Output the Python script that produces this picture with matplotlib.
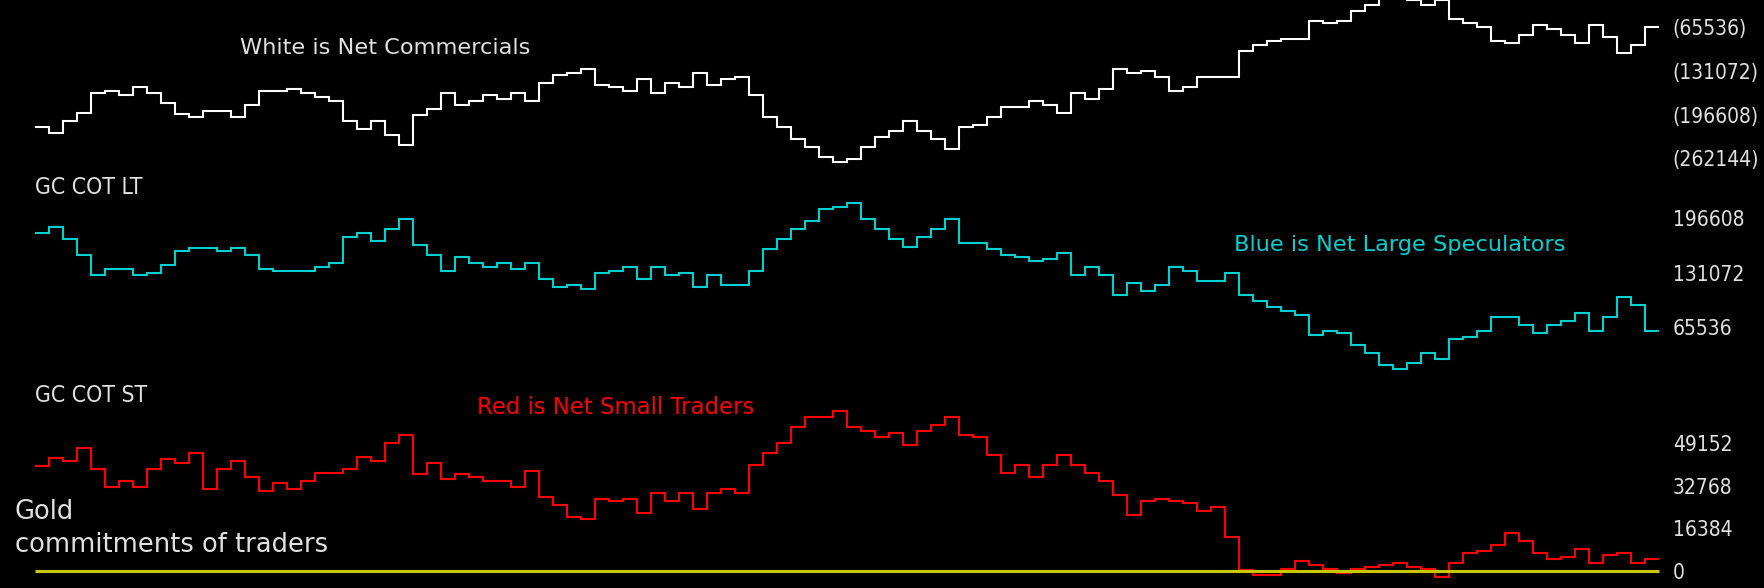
import numpy as np
import matplotlib
matplotlib.use("Agg")
import matplotlib.pyplot as plt

# ---- data (thousands of contracts) ----
white_k = [-215.6, -224.6, -206.6, -194.6, -164.6, -161.1, -167.6, -155.6, -164.6, -179.6,
           -195.1, -200.6, -191.6, -191.6, -200.6, -182.6, -160.6, -160.6, -158.1, -164.6,
           -170.6, -176.6, -206.6, -218.6, -206.6, -227.6, -242.6, -197.6, -188.6, -164.6,
           -182.6, -176.6, -167.6, -173.6, -164.6, -176.6, -149.6, -137.6, -134.6, -128.6,
           -152.6, -155.6, -161.6, -143.6, -164.6, -149.6, -155.6, -134.6, -152.6, -143.6,
           -140.6, -167.6, -200.6, -215.6, -233.6, -245.6, -260.6, -267.1, -263.6, -245.6,
           -230.6, -221.6, -206.6, -221.6, -233.6, -248.6, -215.6, -212.6, -200.6, -185.6,
           -185.6, -176.6, -182.6, -194.6, -164.6, -173.6, -158.6, -128.6, -134.6, -131.6,
           -140.6, -160.6, -155.6, -140.6, -140.6, -140.6, -101.6, -92.6, -86.6, -83.6,
           -83.6, -56.6, -59.6, -56.6, -41.6, -32.6, -15.0, -15.0, -25.3, -32.6,
           -25.3, -53.6, -59.6, -65.6, -86.6, -89.6, -76.6, -62.6, -68.6, -76.6,
           -89.6, -62.6, -80.6, -104.6, -92.6, -65.6]

cyan_k = [178.4, 185.7, 171.2, 151.8, 127.7, 134.9, 134.9, 127.7, 130.1, 139.7,
          156.7, 161.1, 161.1, 156.7, 161.1, 151.8, 134.9, 132.5, 132.5, 132.5,
          137.3, 142.2, 173.6, 178.4, 168.8, 183.3, 195.4, 163.9, 151.8, 132.5,
          149.4, 142.2, 137.3, 142.2, 134.9, 142.2, 122.8, 113.1, 115.6, 110.7,
          130.1, 132.5, 137.3, 122.8, 137.3, 127.7, 130.1, 113.1, 127.7, 115.6,
          115.6, 132.5, 159.1, 171.2, 183.3, 192.9, 207.4, 209.9, 214.7, 195.4,
          183.3, 171.2, 161.5, 173.6, 183.3, 195.4, 166.3, 166.3, 159.1, 151.8,
          149.4, 144.6, 147.0, 154.2, 127.7, 137.3, 127.7, 103.5, 118.0, 108.3,
          115.6, 137.3, 132.5, 120.4, 120.4, 130.1, 103.5, 96.2, 89.0, 84.1,
          79.3, 55.1, 59.9, 57.5, 43.0, 33.4, 18.8, 14.0, 21.3, 33.4,
          26.1, 50.3, 52.7, 59.9, 76.9, 76.9, 67.2, 57.5, 67.2, 72.0,
          81.7, 59.9, 76.9, 101.1, 91.4, 59.9]

red_k = [40.3, 43.4, 42.1, 47.3, 39.0, 32.1, 34.4, 32.1, 39.0, 42.9,
         41.3, 45.2, 31.4, 39.0, 42.1, 36.0, 30.6, 33.7, 31.4, 34.4,
         37.5, 37.5, 39.0, 43.6, 42.1, 49.0, 52.1, 37.3, 41.3, 35.2,
         37.3, 36.0, 34.4, 34.4, 32.1, 38.3, 28.3, 25.3, 20.7, 19.9,
         27.6, 26.8, 27.6, 22.2, 29.9, 26.8, 29.9, 23.7, 29.9, 31.4,
         29.9, 40.6, 45.2, 49.0, 55.1, 58.9, 58.9, 61.2, 55.1, 53.6,
         51.3, 52.8, 48.2, 53.6, 55.9, 58.9, 52.1, 51.3, 44.4, 37.5,
         40.6, 36.0, 40.6, 44.4, 40.6, 37.5, 34.4, 29.1, 21.4, 26.8,
         27.6, 26.8, 26.0, 23.0, 24.5, 13.0, 0.5, -1.5, -1.5, 0.8,
         3.8, 2.3, 0.8, -0.8, 0.8, 1.5, 2.3, 3.1, 1.5, 0.8,
         -2.3, 3.1, 6.9, 7.6, 9.9, 14.5, 11.5, 6.9, 4.6, 5.4,
         8.4, 3.1, 6.1, 6.9, 3.1, 4.6]

white_ticks = [-65536, -131072, -196608, -262144]
white_ticklabels = ["(65536)", "(131072)", "(196608)", "(262144)"]
cyan_ticks = [196608, 131072, 65536]
cyan_ticklabels = ["196608", "131072", "65536"]
red_ticks = [49152, 32768, 16384, 0]
red_ticklabels = ["49152", "32768", "16384", "0"]

# ---- layout ----
W, H = 1764, 588
fig = plt.figure(figsize=(W / 100, H / 100), dpi=100, facecolor="black")

x0_px, step_px, ax_right_px = 35.2, 14.0, 1668
xlim = (-x0_px / step_px, (ax_right_px - x0_px) / step_px)

LBL = "#e0e0e0"
CYAN = "#00d0d0"
RED = "#ff0000"
YEL = "#c8c800"

def band(top_px, bot_px):
    ax = fig.add_axes([0, 1 - bot_px / H, ax_right_px / W, (bot_px - top_px) / H])
    ax.set_facecolor("none")
    ax.set_xlim(*xlim)
    ax.set_xticks([])
    for s in ax.spines.values():
        s.set_visible(False)
    ax.yaxis.tick_right()
    ax.tick_params(axis="y", length=0, pad=3.5, labelcolor=LBL)
    return ax

def style_ticks(ax):
    for t in ax.get_yticklabels():
        t.set_fontstretch("condensed")
        t.set_fontsize(15)

n = len(white_k)
edges = np.arange(n + 1)

# White: net commercials
ax1 = band(0, 170)
ax1.set_ylim(-279550, -24550)
ax1.stairs(np.array(white_k) * 1000, edges, baseline=None, color="white", lw=1.5)
ax1.set_yticks(white_ticks, white_ticklabels)
style_ticks(ax1)

# Cyan: net large speculators
ax2 = band(170, 380)
ax2.set_ylim(1100, 255000)
ax2.stairs(np.array(cyan_k) * 1000, edges, baseline=None, color=CYAN, lw=1.5)
ax2.set_yticks(cyan_ticks, cyan_ticklabels)
style_ticks(ax2)

# Red: net small traders
ax3 = band(380, 588)
ax3.set_ylim(-6400, 73230)
ax3.hlines(0, 0, n, color=YEL, lw=2.2)
ax3.stairs(np.array(red_k) * 1000, edges, baseline=None, color=RED, lw=1.5)
ax3.set_yticks(red_ticks, red_ticklabels)
style_ticks(ax3)

def ftext(px, py, s, color, size, stretch="normal"):
    fig.text(px / W, 1 - py / H, s, color=color, fontsize=size, ha="left",
             va="center", fontstretch=stretch)

ftext(240, 48, "White is Net Commercials", LBL, 16.2)
ftext(35, 187, "GC COT LT", LBL, 16.5, "condensed")
ftext(1234, 245, "Blue is Net Large Speculators", CYAN, 16.2)
ftext(35, 396, "GC COT ST", LBL, 16.5, "condensed")
ftext(477, 407, "Red is Net Small Traders", RED, 16.4)
ftext(15, 512, "Gold", LBL, 18.5)
ftext(15, 545, "commitments of traders", LBL, 18.5)

fig.savefig("out.png", dpi=100, facecolor="black")
